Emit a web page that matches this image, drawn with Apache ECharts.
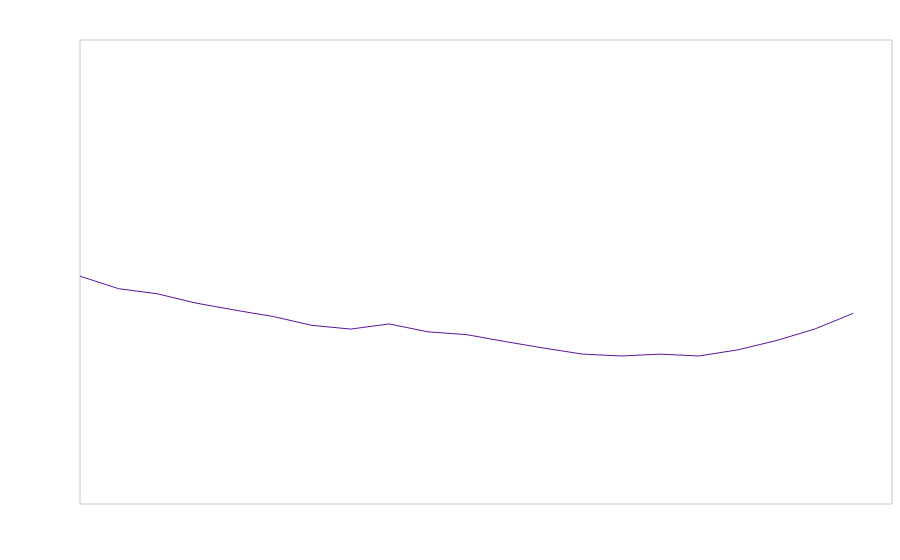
<!DOCTYPE html>
<html><head><meta charset="utf-8">
<script src="https://cdn.jsdelivr.net/npm/echarts@6/dist/echarts.min.js"></script>
<style>html,body{margin:0;padding:0;background:#fff}#c{width:900px;height:560px}</style>
</head><body><div id="c"></div>
<script>
var categories = ['1','2','3','4','5','6','7','8','9','10','11','12','13','14','15','16','17','18','19','20','21','22'];
var values = [49.1,46.4,45.3,43.3,41.8,40.4,38.5,37.7,38.8,37.1,36.5,35.0,33.6,32.3,31.9,32.3,31.9,33.2,35.2,37.7,41.1,null];
var chart = echarts.init(document.getElementById('c'));
chart.setOption({
  animation:false,
  grid:{left:80,top:40,right:8,bottom:56,show:true,borderColor:'#c4c4c4',borderWidth:1,backgroundColor:'#fff'},
  xAxis:{type:'category',data:categories,boundaryGap:false,show:false},
  yAxis:{type:'value',min:0,max:100,show:false},
  series:[{type:'line',data:values,showSymbol:false,symbol:'none',lineStyle:{color:'#5b14a0',width:1},itemStyle:{color:'#5b14a0'}}]
});
</script></body></html>
